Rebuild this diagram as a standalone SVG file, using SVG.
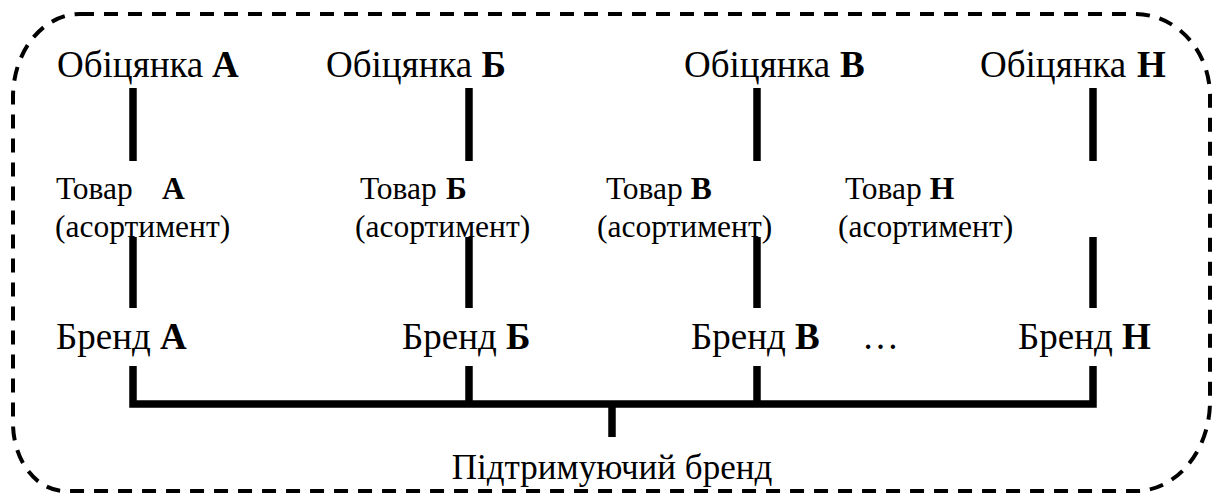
<svg xmlns="http://www.w3.org/2000/svg" width="1216" height="494" viewBox="0 0 1216 494">
<style>
text{font-family:"Liberation Serif","Times New Roman",serif;fill:#000}
.big{font-size:37px}
.sup{font-size:35px}
.mid{font-size:31.5px}
.b{font-weight:bold}
.ln{stroke:#000;stroke-width:7.5;fill:none}
.frame{fill:none;stroke:#000;stroke-width:4;stroke-dasharray:14 10}
</style>
<rect width="1216" height="494" fill="#fff"/>
<path class="frame" d="M80,14 H1135 A75,82 0 0 1 1210,96 V400 A75,90 0 0 1 1140,491 H65 A52,68 0 0 1 13,423 V97 A67,83 0 0 1 80,14 Z"/>
<g id="connectors">
<line class="ln" x1="133" y1="88" x2="133" y2="161"/>
<line class="ln" x1="469" y1="88" x2="469" y2="161"/>
<line class="ln" x1="757" y1="88" x2="757" y2="161"/>
<line class="ln" x1="1093" y1="88" x2="1093" y2="161"/>
<line class="ln" x1="133" y1="237" x2="133" y2="308"/>
<line class="ln" x1="469" y1="237" x2="469" y2="308"/>
<line class="ln" x1="757" y1="237" x2="757" y2="308"/>
<line class="ln" x1="1093" y1="237" x2="1093" y2="308"/>
<path class="ln" d="M133,366 V404 H1093 V366"/>
<line class="ln" x1="469" y1="366" x2="469" y2="404"/>
<line class="ln" x1="757" y1="366" x2="757" y2="404"/>
<line class="ln" x1="612" y1="404" x2="612" y2="437"/>
</g>
<g id="promise-a"><text class="big" x="57" y="77">Обіцянка <tspan class="b" x="212">А</tspan></text></g>
<g id="promise-b"><text class="big" x="326" y="77">Обіцянка <tspan class="b">Б</tspan></text></g>
<g id="promise-v"><text class="big" x="684" y="77">Обіцянка <tspan class="b" x="840">В</tspan></text></g>
<g id="promise-n"><text class="big" x="980" y="77">Обіцянка <tspan class="b" x="1137">Н</tspan></text></g>
<g id="product-a"><text class="mid" x="56" y="199">Товар<tspan class="b" x="162">А</tspan></text><text class="mid" x="55" y="237">(асортимент)</text></g>
<g id="product-b"><text class="mid" x="360" y="199">Товар<tspan class="b" x="446">Б</tspan></text><text class="mid" x="355" y="237">(асортимент)</text></g>
<g id="product-v"><text class="mid" x="606" y="199">Товар <tspan class="b">В</tspan></text><text class="mid" x="597" y="237">(асортимент)</text></g>
<g id="product-n"><text class="mid" x="845" y="199">Товар <tspan class="b">Н</tspan></text><text class="mid" x="838" y="237">(асортимент)</text></g>
<g id="brand-a"><text class="big" x="56" y="349">Бренд <tspan class="b">А</tspan></text></g>
<g id="brand-b"><text class="big" x="402" y="349">Бренд <tspan class="b">Б</tspan></text></g>
<g id="brand-v"><text class="big" x="691" y="349">Бренд <tspan class="b">В</tspan></text></g>
<g id="ellipsis"><text class="big" x="862" y="349">…</text></g>
<g id="brand-n"><text class="big" x="1018" y="349">Бренд <tspan class="b">Н</tspan></text></g>
<g id="support-brand"><text class="sup" x="612" y="479" text-anchor="middle">Підтримуючий бренд</text></g>
</svg>
